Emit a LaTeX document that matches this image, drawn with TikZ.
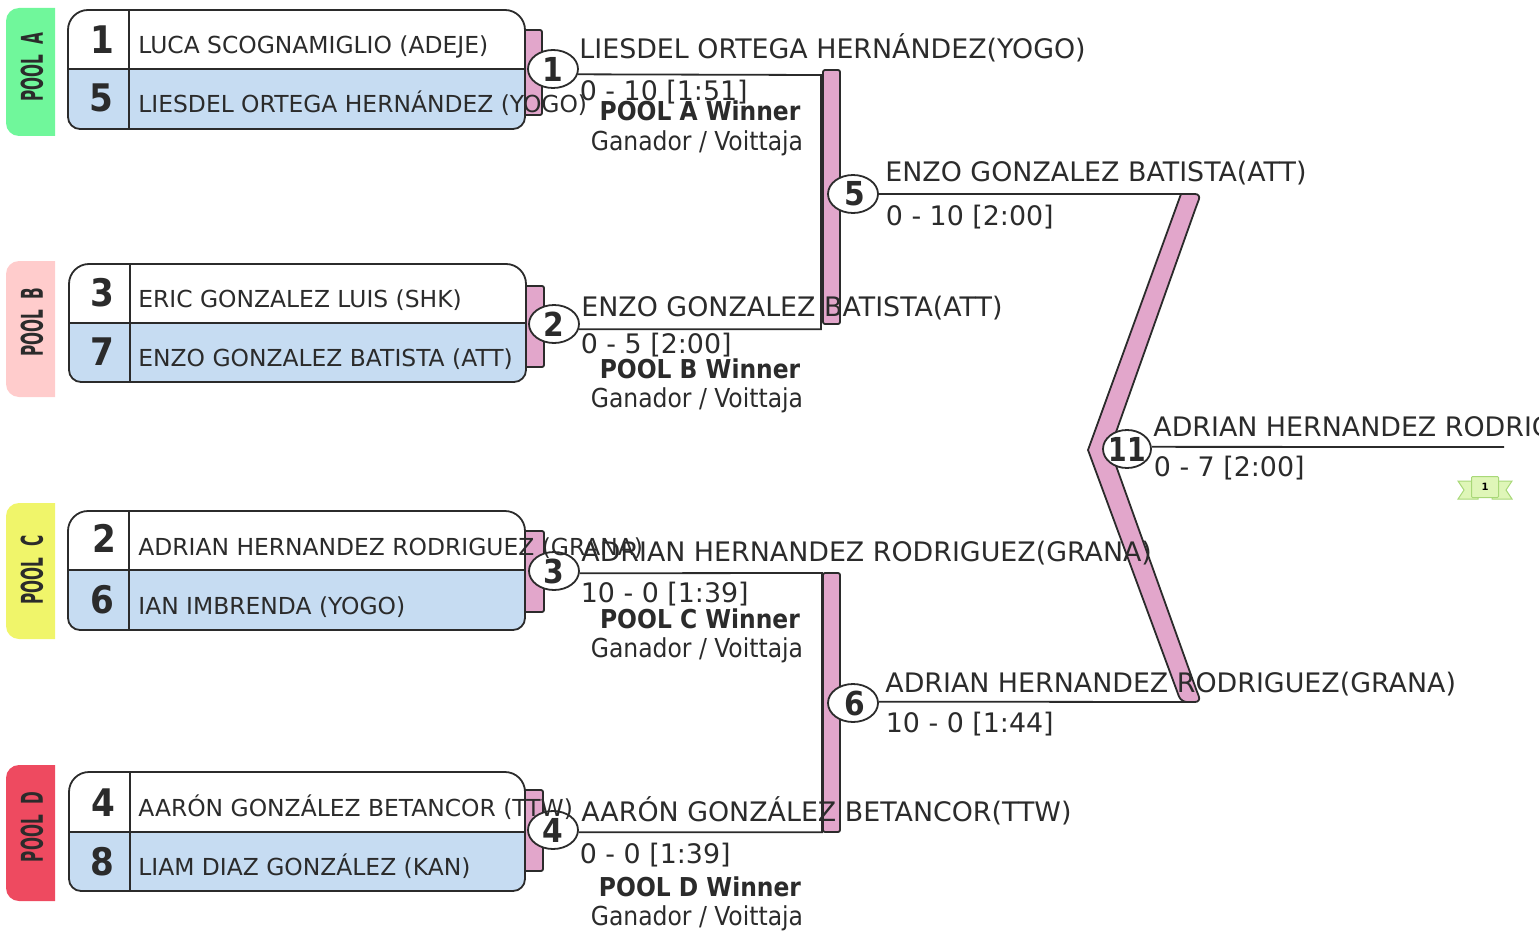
\documentclass[tikz,border=0pt]{standalone}
\usepackage{fontspec}
\setmainfont{DejaVu Sans}
\newfontfamily\condfont{DejaVu Sans Condensed}
\usetikzlibrary{shapes.geometric}
\definecolor{ink}{HTML}{2B2B2B}
\definecolor{barpink}{HTML}{E2A6CB}
\definecolor{seedblue}{HTML}{C6DCF2}
\definecolor{poola}{HTML}{70F79B}
\definecolor{poolb}{HTML}{FFCCCC}
\definecolor{poolc}{HTML}{F0F56A}
\definecolor{poold}{HTML}{EE4A60}
\definecolor{ribbonfill}{HTML}{DFF6B8}
\definecolor{ribbonline}{HTML}{A8D878}
\begin{document}
\begin{tikzpicture}[
            x=1pt, y=-1pt, line width=1.8pt, draw=ink, text=ink,
            pooltag/.style={rectangle, inner sep=0pt, rotate=90, font=\condfont\bfseries\fontsize{25pt}{25pt}\selectfont},
            seednum/.style={anchor=base, inner sep=0pt, font=\condfont\bfseries\fontsize{38pt}{38pt}\selectfont},
            seedname/.style={anchor=base west, inner sep=0pt, font=\fontsize{23.4pt}{28pt}\selectfont},
            winner/.style={anchor=base west, inner sep=0pt, font=\fontsize{26.85pt}{32pt}\selectfont},
            score/.style={anchor=base west, inner sep=0pt, font=\fontsize{26.85pt}{32pt}\selectfont},
            poolwin/.style={anchor=base, inner sep=0pt, font=\condfont\bfseries\fontsize{26pt}{32pt}\selectfont},
            ganador/.style={anchor=base, inner sep=0pt, font=\condfont\fontsize{26.1pt}{32pt}\selectfont},
            matchnum/.style={ellipse, draw, fill=white, minimum width=50pt, minimum height=38pt, inner sep=0pt, font=\condfont\bfseries\fontsize{33pt}{33pt}\selectfont},
            bar/.style={draw, fill=barpink, rounded corners=2pt},
        ]
            \useasboundingbox (0,0) rectangle (1539,931);
            % pool tabs
            \fill[poola] (55,8) {[rounded corners=13pt] -- (6,8) -- (6,136)} -- (55,136) -- cycle;
            \fill[poolb] (55,261) {[rounded corners=13pt] -- (6,261) -- (6,397)} -- (55,397) -- cycle;
            \fill[poolc] (55,503) {[rounded corners=13pt] -- (6,503) -- (6,639)} -- (55,639) -- cycle;
            \fill[poold] (55,765) {[rounded corners=13pt] -- (6,765) -- (6,901)} -- (55,901) -- cycle;
            \node[pooltag](taga) at (32,67) {\scalebox{0.68}[1.2]{POOL\ \ A}};
            \node[pooltag](tagb) at (32,322) {\scalebox{0.68}[1.2]{POOL\ \ B}};
            \node[pooltag](tagc) at (32,570) {\scalebox{0.68}[1.2]{POOL\ \ C}};
            \node[pooltag](tagd) at (32,827) {\scalebox{0.68}[1.2]{POOL\ \ D}};
            % bars
            \draw[bar] (520,30) rectangle (542,115);
            \draw[bar] (520,286) rectangle (544,367);
            \draw[bar] (520,531) rectangle (544,612);
            \draw[bar] (520,790) rectangle (543,871);
            \draw[bar] (823,70) rectangle (840,324);
            \draw[bar] (823,573) rectangle (840,832);
            \draw[draw=ink, fill=barpink] (1088,450) -- (1181,194) {[rounded corners=6pt] -- (1201,194) -- (1196,207)} -- (1110,449) -- (1196,689) {[rounded corners=6pt] -- (1201,702) -- (1181,702)} -- cycle;
            % seed boxes
            \fill[white] (68,69) {[rounded corners=20pt] -- (68,10) -- (525,10)} -- (525,69) -- cycle;
            \fill[seedblue] (68,69) -- (525,69) {[rounded corners=12pt] -- (525,129) -- (68,129)} -- cycle;
            \draw (68,69) {[rounded corners=20pt] -- (68,10) -- (525,10) -- (525,69)} {[rounded corners=12pt] -- (525,129) -- (68,129) -- (68,69)} -- cycle;
            \draw (68,69) -- (525,69);
            \draw (129,10) -- (129,129);
            \fill[white] (69,323) {[rounded corners=20pt] -- (69,264) -- (526,264)} -- (526,323) -- cycle;
            \fill[seedblue] (69,323) -- (526,323) {[rounded corners=12pt] -- (526,382) -- (69,382)} -- cycle;
            \draw (69,323) {[rounded corners=20pt] -- (69,264) -- (526,264) -- (526,323)} {[rounded corners=12pt] -- (526,382) -- (69,382) -- (69,323)} -- cycle;
            \draw (69,323) -- (526,323);
            \draw (130,264) -- (130,382);
            \fill[white] (68,570) {[rounded corners=20pt] -- (68,511) -- (525,511)} -- (525,570) -- cycle;
            \fill[seedblue] (68,570) -- (525,570) {[rounded corners=12pt] -- (525,630) -- (68,630)} -- cycle;
            \draw (68,570) {[rounded corners=20pt] -- (68,511) -- (525,511) -- (525,570)} {[rounded corners=12pt] -- (525,630) -- (68,630) -- (68,570)} -- cycle;
            \draw (68,570) -- (525,570);
            \draw (129,511) -- (129,630);
            \fill[white] (69,832) {[rounded corners=20pt] -- (69,772) -- (525,772)} -- (525,832) -- cycle;
            \fill[seedblue] (69,832) -- (525,832) {[rounded corners=12pt] -- (525,891) -- (69,891)} -- cycle;
            \draw (69,832) {[rounded corners=20pt] -- (69,772) -- (525,772) -- (525,832)} {[rounded corners=12pt] -- (525,891) -- (69,891) -- (69,832)} -- cycle;
            \draw (69,832) -- (525,832);
            \draw (130,772) -- (130,891);
            % matches
            \node[matchnum](m1) at (553,69) {1};
            \node[matchnum](m2) at (554,324) {2};
            \node[matchnum](m3) at (554,571) {3};
            \node[matchnum](m4) at (553,830) {4};
            \node[matchnum](m5) at (853,194) {\kern3pt 5};
            \node[matchnum](m6) at (853,703) {\kern3pt 6};
            \node[matchnum, minimum width=48pt](m11) at (1127,449) {\makebox[0pt]{\scalebox{0.9}[1]{11}}};
            \coordinate (topjoin) at (821,75);
            \coordinate (lowjoin) at (822,573);
            \coordinate (semitop) at (1186,194);
            \coordinate (semilow) at (1186,702);
            \coordinate (finalend) at (1504,447);
            \draw (m1.-12) -- (topjoin) -- (topjoin |- m2.-12) -- (m2.-12);
            \draw (m3.-5) -- (lowjoin) -- (lowjoin |- m4.-5) -- (m4.-5);
            \draw (m5.east) -- (semitop);
            \draw (m6.3) -- (semilow);
            \draw (m11.5) -- (finalend);
            % ribbon
            \draw[draw=ribbonline, fill=ribbonfill, line width=1pt] (1458,481) -- (1478,481) -- (1478,499) -- (1458,499) -- (1464,490) -- cycle;
            \draw[draw=ribbonline, fill=ribbonfill, line width=1pt] (1512,481) -- (1492,481) -- (1492,499) -- (1512,499) -- (1506,490) -- cycle;
            \node[draw=ribbonline, fill=ribbonfill, line width=1pt, rounded corners=1pt, minimum width=27pt, minimum height=21pt, inner sep=0pt, text=black, font=\bfseries\fontsize{10pt}{10pt}\selectfont](ribbon) at (1485,487) {1};
            % seed texts
            \node[seednum](s1) at (102,54) {1};
            \node[seednum](s5) at (101,112) {5};
            \node[seednum](s3) at (102,306) {3};
            \node[seednum](s7) at (102,365) {7};
            \node[seednum](s2) at (104,552) {2};
            \node[seednum](s6) at (102,613) {6};
            \node[seednum](s4) at (103,816) {4};
            \node[seednum](s8) at (102,875) {8};
            \node[seedname](luca) at (137.5,54) {LUCA SCOGNAMIGLIO (ADEJE)};
            \node[seedname](liesdel) at (137.5,113) {LIESDEL ORTEGA HERNÁNDEZ (YOGO)};
            \node[seedname](eric) at (137.5,307) {ERIC GONZALEZ LUIS (SHK)};
            \node[seedname](enzo) at (137.5,366) {ENZO GONZALEZ BATISTA (ATT)};
            \node[seedname](adrian) at (137.5,555) {ADRIAN HERNANDEZ RODRIGUEZ (GRANA)};
            \node[seedname](ian) at (137.5,614) {IAN IMBRENDA (YOGO)};
            \node[seedname](aaron) at (137.5,816) {AARÓN GONZÁLEZ BETANCOR (TTW)};
            \node[seedname](liam) at (137.5,875) {LIAM DIAZ GONZÁLEZ (KAN)};
            % results
            \node[winner](w1) at (578.5,59) {LIESDEL ORTEGA HERNÁNDEZ(YOGO)};
            \node[score](r1) at (579,101) {0 - 10 [1:51]};
            \node[winner](w2) at (580.5,316) {ENZO GONZALEZ BATISTA(ATT)};
            \node[score](r2) at (580,353) {0 - 5 [2:00]};
            \node[winner](w3) at (580.5,561) {ADRIAN HERNANDEZ RODRIGUEZ(GRANA)};
            \node[score](r3) at (580,602) {10 - 0 [1:39]};
            \node[winner](w4) at (580.5,821) {AARÓN GONZÁLEZ BETANCOR(TTW)};
            \node[score](r4) at (579,863) {0 - 0 [1:39]};
            \node[winner](w5) at (884.5,182) {ENZO GONZALEZ BATISTA(ATT)};
            \node[score](r5) at (885,225) {0 - 10 [2:00]};
            \node[winner](w6) at (884.5,692) {ADRIAN HERNANDEZ RODRIGUEZ(GRANA)};
            \node[score](r6) at (885,732) {10 - 0 [1:44]};
            \node[winner](w11) at (1152.5,436) {ADRIAN HERNANDEZ RODRIGUEZ(GRANA)};
            \node[score](r11) at (1153,476) {0 - 7 [2:00]};
            % pool winners
            \node[poolwin](pa) at (700,121) {POOL A Winner};
            \node[ganador](ga) at (697,150) {Ganador / Voittaja};
            \node[poolwin](pb) at (700,378) {POOL B Winner};
            \node[ganador](gb) at (697,407) {Ganador / Voittaja};
            \node[poolwin](pc) at (700,628) {POOL C Winner};
            \node[ganador](gc) at (697,657) {Ganador / Voittaja};
            \node[poolwin](pd) at (700,896) {POOL D Winner};
            \node[ganador](gd) at (697,925) {Ganador / Voittaja};
        \end{tikzpicture}
\end{document}
